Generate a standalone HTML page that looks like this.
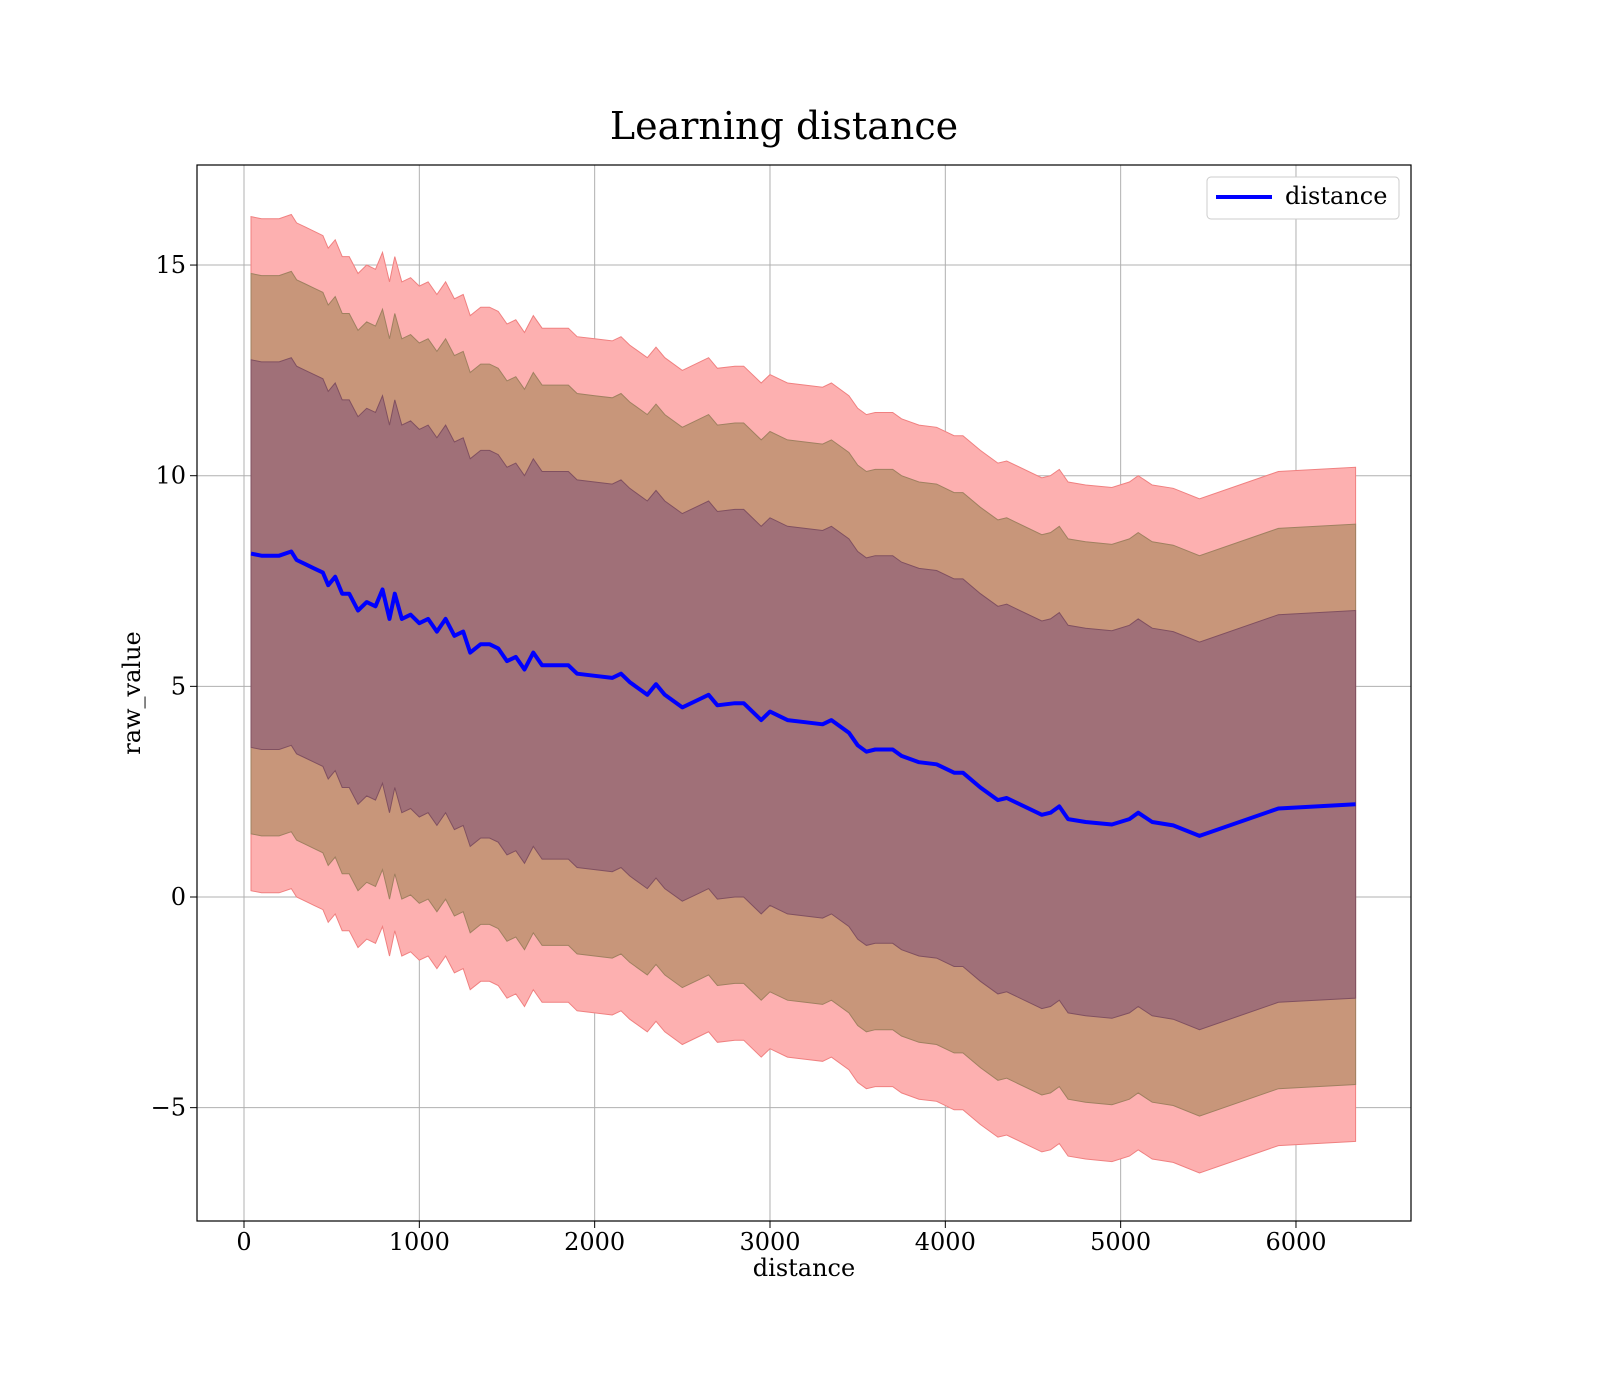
<!DOCTYPE html>
<html><head><meta charset="utf-8"><style>
html,body{margin:0;padding:0;background:#fff;width:1600px;height:1400px;overflow:hidden;}
svg{display:block;}
svg text{font-family:"DejaVu Serif","Liberation Serif",serif;fill:#000;}
</style></head><body>
<svg id="chart" width="1600" height="1400" xmlns="http://www.w3.org/2000/svg">
<rect width="1600" height="1400" fill="#fff"/>
<text x="784" y="139" font-size="38" text-anchor="middle">Learning distance</text>
<g id="grid"></g>
<g id="bands"></g>
<g id="lines"></g>
<rect x="197" y="165" width="1214" height="1056" fill="none" stroke="#000" stroke-width="1.2"/>
<g id="ticks"></g>
<text x="804" y="1276" font-size="24" text-anchor="middle">distance</text>
<text x="140" y="693" font-size="24" text-anchor="middle" transform="rotate(-90 140 693)">raw_value</text>
<g>
<rect x="1207" y="177" width="192" height="42" rx="4" fill="#fff" stroke="#ccc"/>
<line x1="1216" y1="197" x2="1272" y2="197" stroke="#0000ff" stroke-width="4"/>
<text x="1285" y="204" font-size="24">distance</text>
</g>
</svg>
<script>
const xs=[40,100,200,270,300,350,400,450,480,520,560,600,650,700,750,790,830,860,900,950,1000,1050,1100,1150,1200,1250,1290,1350,1400,1450,1500,1550,1600,1650,1700,1800,1850,1900,2000,2100,2150,2200,2300,2350,2400,2500,2600,2650,2700,2800,2850,2950,3000,3100,3200,3300,3350,3450,3500,3550,3600,3700,3750,3850,3950,4050,4100,4200,4300,4350,4550,4600,4650,4700,4800,4950,5050,5100,5180,5300,5450,5900,6340];
const means=[8.15,8.1,8.1,8.2,8.0,7.9,7.8,7.7,7.4,7.6,7.2,7.2,6.8,7.0,6.9,7.3,6.6,7.2,6.6,6.7,6.5,6.6,6.3,6.6,6.2,6.3,5.8,6.0,6.0,5.9,5.6,5.7,5.4,5.8,5.5,5.5,5.5,5.3,5.25,5.2,5.3,5.1,4.8,5.05,4.8,4.5,4.7,4.8,4.55,4.6,4.6,4.2,4.4,4.2,4.15,4.1,4.2,3.9,3.6,3.45,3.5,3.5,3.35,3.2,3.15,2.95,2.95,2.6,2.3,2.35,1.95,2.0,2.15,1.85,1.78,1.72,1.85,2.0,1.78,1.7,1.45,2.1,2.2];
const bandWidths=[8.0,6.65,4.6];
const xTicks=[0,1000,2000,3000,4000,5000,6000];
const yTicks=[-5,0,5,10,15];
const xPx=v=>244+v*0.17533;
const yPx=v=>897-v*42.13;
const NS="http://www.w3.org/2000/svg";
function mk(t,a,p){const e=document.createElementNS(NS,t);for(const k in a)e.setAttribute(k,a[k]);p.appendChild(e);return e;}
const grid=document.getElementById('grid'),ticks=document.getElementById('ticks');
xTicks.forEach(v=>{const X=xPx(v);
const g=mk('line',{x1:X,x2:X,y1:165,y2:1221,stroke:'#b0b0b0','stroke-width':1},grid);


const t=mk('line',{x1:X,x2:X,y1:1221,y2:1228,stroke:'#000'},ticks);


const l=mk('text',{x:X,y:1250,'font-size':24,'text-anchor':'middle'},ticks);l.textContent=v;

});
yTicks.forEach(v=>{const Y=yPx(v);
const g=mk('line',{x1:197,x2:1411,y1:Y,y2:Y,stroke:'#b0b0b0','stroke-width':1},grid);


const t=mk('line',{x1:190,x2:197,y1:Y,y2:Y,stroke:'#000'},ticks);


const l=mk('text',{x:186,y:Y+8,'font-size':24,'text-anchor':'end'},ticks);l.textContent=v<0?'\u2212'+(-v):v;

});
const bands=document.getElementById('bands');
const fills=['#fdb0b0','#c8967a','#a07078'];const strokes=['#f08080','#a08060','#805060'];
bandWidths.forEach((w,i)=>{let d='';
xs.forEach((x,j)=>{d+=(j?'L':'M')+xPx(x).toFixed(1)+','+yPx(means[j]+w).toFixed(1);});
for(let j=xs.length-1;j>=0;j--)d+='L'+xPx(xs[j]).toFixed(1)+','+yPx(means[j]-w).toFixed(1);
const p=mk('path',{d:d+'Z',fill:fills[i],stroke:strokes[i],'stroke-width':1},bands);

});
const pts=xs.map((x,j)=>xPx(x).toFixed(1)+','+yPx(means[j]).toFixed(1)).join(' ');
const ln=mk('polyline',{points:pts,fill:'none',stroke:'#0000ff','stroke-width':4,'stroke-linejoin':'round'},document.getElementById('lines'));


</script>
</body></html>
